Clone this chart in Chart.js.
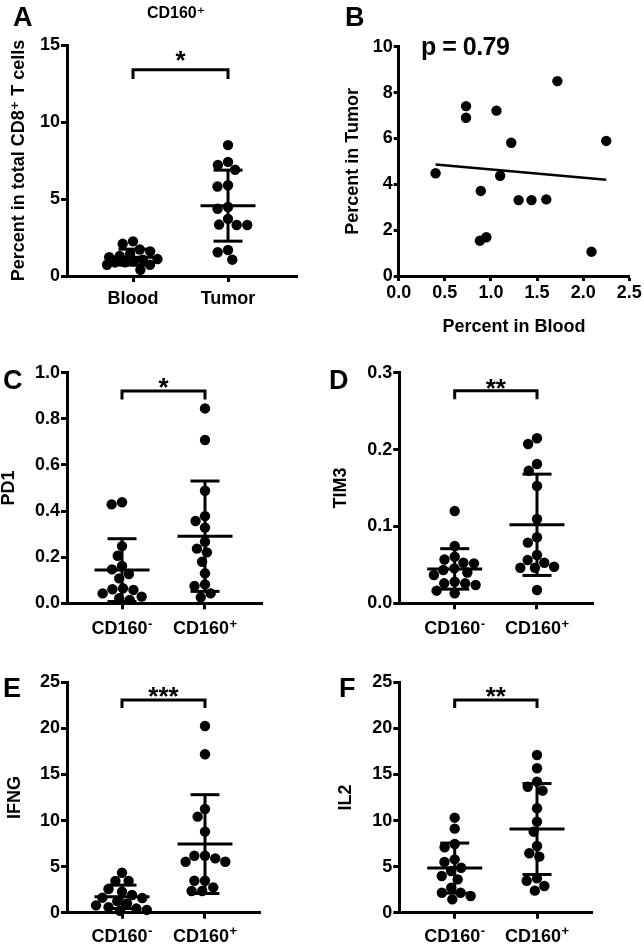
<!DOCTYPE html>
<html><head><meta charset="utf-8">
<script src="https://cdn.jsdelivr.net/npm/chart.js@4.4.1/dist/chart.umd.min.js"></script>
<style>
html,body{margin:0;padding:0;background:#fff;}
#fig{position:relative;width:644px;height:946px;overflow:hidden;background:#fff;}
canvas{position:absolute;}
.t{position:absolute;font-family:'Liberation Sans','DejaVu Sans',sans-serif;font-weight:bold;line-height:1;white-space:nowrap;color:#000;}
</style></head><body><div id="fig"></div>
<script>
// ---------------- data ----------------
const groupNamesA = ['Blood', 'Tumor'];
const groupNamesCD160 = ['CD160\u207B', 'CD160\u207A'];
// paired per patient (panel A groups and panel B scatter)
const bloodPct = [0.40, 0.73, 0.73, 0.88, 0.89, 0.95, 1.06, 1.10, 1.22, 1.30, 1.44, 1.60, 1.72, 2.09, 2.25];
const tumorPct = [4.48, 7.41, 6.90, 1.54, 3.71, 1.69, 7.21, 4.37, 5.81, 3.31, 3.31, 3.34, 8.50, 1.06, 5.89];
const pd1Neg  = [0.438, 0.429, 0.248, 0.206, 0.162, 0.147, 0.127, 0.108, 0.065, 0.058, 0.061, 0.043, 0.029, 0.022, 0.015];
const pd1Pos  = [0.845, 0.708, 0.488, 0.378, 0.357, 0.328, 0.267, 0.237, 0.221, 0.180, 0.130, 0.082, 0.075, 0.043, 0.026];
const tim3Neg = [0.120, 0.0745, 0.0607, 0.057, 0.052, 0.0528, 0.0455, 0.040, 0.0368, 0.0433, 0.026, 0.0238, 0.028, 0.026, 0.013, 0.0164];
const tim3Pos = [0.2147, 0.2072, 0.1812, 0.1725, 0.1526, 0.1097, 0.0859, 0.0789, 0.0628, 0.0563, 0.0528, 0.0463, 0.0463, 0.0476, 0.0173];
const ifngNeg = [4.34, 3.44, 3.44, 2.57, 2.28, 1.92, 1.63, 1.60, 1.25, 1.00, 0.80, 0.60, 0.45, 0.30, 0.20];
const ifngPos = [20.26, 17.19, 11.25, 10.42, 8.79, 6.18, 6.18, 5.53, 5.53, 5.90, 3.47, 3.47, 2.75, 2.36, 2.36];
const il2Neg  = [10.31, 9.12, 7.45, 7.10, 5.79, 5.50, 4.88, 4.52, 3.98, 3.62, 2.71, 2.17, 2.17, 1.81, 1.45];
const il2Pos  = [17.11, 15.67, 14.22, 13.67, 13.24, 11.33, 9.88, 8.79, 7.24, 6.45, 6.08, 3.47, 3.73, 2.90, 2.39];

const yTicksA = [0, 5, 10, 15];
const yTicksB = [0, 2, 4, 6, 8, 10];
const xTicksB = [0, 0.5, 1, 1.5, 2, 2.5];
const yTicksPD1 = [0, 0.2, 0.4, 0.6, 0.8, 1.0];
const yTicksTIM3 = [0, 0.1, 0.2, 0.3];
const yTicksCyto = [0, 5, 10, 15, 20, 25];

// significance brackets: [bar level, end level], star level
const bracketA = [13.4, 12.8],   starA = 14.28, sigA = '*';
const bracketC = [0.921, 0.884], starC = 0.954, sigC = '*';
const bracketD = [0.2766, 0.2654], starD = 0.2857, sigD = '**';
const bracketE = [23.08, 22.2],  starE = 23.95, sigE = '***';
const bracketF = [23.08, 22.2],  starF = 23.95, sigF = '**';
const pValueTextB = 'p = 0.79';
const titleA = 'CD160\u207A';

// ---------------- helpers ----------------
const FONT = "'Liberation Sans','DejaVu Sans',sans-serif";
Chart.defaults.font.family = FONT;
Chart.defaults.color = '#000';
const fig = document.getElementById('fig');

function mkCanvas(r) {
  const c = document.createElement('canvas');
  c.width = r.w; c.height = r.h;
  c.style.left = r.x + 'px'; c.style.top = r.y + 'px';
  c.style.width = r.w + 'px'; c.style.height = r.h + 'px';
  fig.appendChild(c);
  return c;
}
function addText(txt, x, baseline, size, align, ls) {
  const d = document.createElement('div');
  d.className = 't'; d.textContent = txt;
  d.style.fontSize = size + 'px';
  d.style.top = (baseline - 0.8465 * size) + 'px';
  d.style.left = x + 'px';
  if (ls) d.style.letterSpacing = ls + 'px';
  if (align === 'center') d.style.transform = 'translateX(-50%)';
  fig.appendChild(d);
}
const mean = a => a.reduce((s, v) => s + v, 0) / a.length;
const sd = a => { const m = mean(a); return Math.sqrt(a.reduce((s, v) => s + (v - m) * (v - m), 0) / (a.length - 1)); };

// deterministic beeswarm (pixel offsets), limited to +-W px; overlaps allowed when crowded
function swarm(vals, yScale, D, W) {
  const order = vals.map((v, i) => i).sort((a, b) => vals[b] - vals[a]);
  const placed = [], off = new Array(vals.length).fill(0);
  for (const i of order) {
    const y = yScale.getPixelForValue(vals[i]);
    const near = placed.filter(p => Math.abs(p.y - y) < D);
    const cands = [0];
    near.forEach(p => { const w = Math.sqrt(D * D - (p.y - y) * (p.y - y)); cands.push(p.x - w, p.x + w); });
    for (let c = -W; c <= W; c += 1) cands.push(c);
    const md = c => near.length ? Math.min(...near.map(p => Math.hypot(p.x - c, p.y - y))) : Infinity;
    const inRange = cands.filter(c => Math.abs(c) <= W + 1e-6);
    const valid = inRange.filter(c => md(c) >= D - 1e-6).sort((a, b) => Math.abs(a) - Math.abs(b) || a - b);
    let best = 0;
    if (valid.length) best = valid[0];
    else {
      let bd = -1;
      for (const c of inRange) { const d = md(c); if (d > bd + 1e-6 || (Math.abs(d - bd) < 1e-6 && Math.abs(c) < Math.abs(best))) { bd = d; best = c; } }
    }
    placed.push({ x: best, y }); off[i] = best;
  }
  return off;
}

const sigPlugin = {
  id: 'sig',
  afterDatasetsDraw(chart, args, opts) {
    if (!opts || !opts.text) return;
    const { ctx } = chart, xs = chart.scales.x, ys = chart.scales.y;
    ctx.save();
    ctx.font = 'bold ' + opts.size + 'px ' + FONT;
    ctx.fillStyle = '#000'; ctx.textAlign = 'center'; ctx.textBaseline = 'alphabetic';
    const m = ctx.measureText(opts.text);
    const cy = ys.getPixelForValue(opts.y);
    ctx.fillText(opts.text, xs.getPixelForValue(opts.x), cy + (m.actualBoundingBoxAscent - m.actualBoundingBoxDescent) / 2);
    ctx.restore();
  }
};

// category labels with a real raised superscript (+ / -)
const supMap = { '\u207A': '+', '\u207B': '-' };
function splitSup(s) { let i = s.length; while (i > 0 && supMap[s[i - 1]]) i--; return [s.slice(0, i), s.slice(i).split('').map(c => supMap[c]).join('')]; }
const catLabelPlugin = {
  id: 'catLabels',
  afterDraw(chart, args, opts) {
    if (!opts || !opts.names) return;
    const { ctx } = chart, xs = chart.scales.x;
    const base = xs.getPixelForValue(xs.min) ; // unused anchor
    const yb = chart.chartArea.bottom + opts.offset;
    ctx.save(); ctx.fillStyle = '#000'; ctx.textBaseline = 'alphabetic'; ctx.textAlign = 'left';
    opts.names.forEach((name, i) => {
      const [b, s] = splitSup(name);
      ctx.font = 'bold 18px ' + FONT; const wb = ctx.measureText(b).width;
      ctx.font = 'bold 13px ' + FONT; const ws = s ? ctx.measureText(s).width + 0.5 : 0;
      const x0 = xs.getPixelForValue(i + 1) - (wb + ws) / 2;
      ctx.font = 'bold 18px ' + FONT; ctx.fillText(b, x0, yb);
      if (s) { ctx.font = 'bold 13px ' + FONT; ctx.fillText(s, x0 + wb + 0.5, yb - 6.5); }
    });
    ctx.restore();
  }
};

const tickFont = { size: 18, weight: 'bold', family: FONT };
const gridOpt = { display: true, drawOnChartArea: false, drawTicks: true, tickLength: 6, tickWidth: 3, tickColor: '#000', color: '#000' };
const borderOpt = { display: true, color: '#000', width: 3 };
const seg = pts => ({ data: pts, showLine: true, borderColor: '#000', borderWidth: 3, pointRadius: 0, borderJoinStyle: 'miter', clip: false });

function groupPanel(p) {
  const r = p.rect, P = p.plot;
  const canvas = mkCanvas(r);
  const chart = new Chart(canvas, {
    type: 'scatter',
    data: { datasets: [] },
    options: {
      responsive: false, animation: false, events: [],
      layout: { autoPadding: false, padding: { left: 0, top: P.T - r.y, right: r.x + r.w - P.R, bottom: 0 } },
      plugins: { legend: { display: false }, tooltip: { enabled: false },
        sig: { text: p.sig, x: 1.5, y: p.starY, size: 26 },
        catLabels: { names: p.names, offset: p.labOff } },
      scales: {
        x: {
          type: 'linear', min: p.xMin, max: p.xMax,
          afterBuildTicks: s => { s.ticks = [{ value: 1 }, { value: 2 }]; },
          afterFit: s => { s.height = r.y + r.h - P.B; },
          ticks: { display: false },
          grid: gridOpt, border: borderOpt
        },
        y: {
          type: 'linear', min: p.yTicks[0], max: p.yTicks[p.yTicks.length - 1],
          afterBuildTicks: s => { s.ticks = p.yTicks.map(v => ({ value: v })); },
          afterFit: s => { s.width = P.L - r.x; },
          ticks: { callback: v => p.fmt(v), font: tickFont, color: '#000', padding: 1 },
          grid: gridOpt, border: borderOpt,
          title: { display: true, text: p.yTitle, color: '#000', font: { size: 18, weight: 'bold', family: FONT, lineHeight: 1 }, padding: { top: p.titlePad, bottom: 0 } }
        }
      }
    },
    plugins: [sigPlugin, catLabelPlugin]
  });
  const xs = chart.scales.x, ys = chart.scales.y;
  const toX = (c, px) => xs.getValueForPixel(xs.getPixelForValue(c) + px);
  const ds = [];
  p.groups.forEach((vals, gi) => {
    const c = gi + 1;
    const off = swarm(vals, ys, 10.6, 26);
    ds.push({ data: vals.map((v, i) => ({ x: toX(c, off[i]), y: v })), pointRadius: 5.2, pointBackgroundColor: '#000', pointBorderWidth: 0, clip: false });
    const m = mean(vals), s = sd(vals);
    ds.push(seg([{ x: toX(c, -27.5), y: m }, { x: toX(c, 27.5), y: m }]));
    ds.push(seg([{ x: toX(c, -14.5), y: m + s }, { x: toX(c, 14.5), y: m + s }]));
    ds.push(seg([{ x: toX(c, -14.5), y: m - s }, { x: toX(c, 14.5), y: m - s }]));
    ds.push(seg([{ x: c, y: m - s }, { x: c, y: m + s }]));
  });
  const b = p.bracket;
  ds.push(seg([{ x: 1, y: b[1] }, { x: 1, y: b[0] }, { x: 2, y: b[0] }, { x: 2, y: b[1] }]));
  chart.data.datasets = ds;
  chart.update('none');
  return chart;
}

const fmt0 = v => String(Math.round(v));
const fmt1 = v => v.toFixed(1);

// ---------------- panels ----------------
groupPanel({ rect: { x: 0, y: 30, w: 322, h: 310 }, plot: { L: 67, T: 45, R: 297, B: 276 },
  xMin: 0.3053, xMax: 2.726, yTicks: yTicksA, fmt: fmt0, names: groupNamesA,
  yTitle: 'Percent in total CD8\u207A T cells', titlePad: 10,
  groups: [bloodPct, tumorPct], bracket: bracketA, starY: starA, sig: sigA, labOff: 28 });

groupPanel({ rect: { x: 0, y: 355, w: 322, h: 290 }, plot: { L: 67, T: 372.7, R: 262, B: 603.3 },
  xMin: 0.337, xMax: 2.687, yTicks: yTicksPD1, fmt: fmt1, names: groupNamesCD160,
  yTitle: 'PD1', titlePad: 0.5,
  groups: [pd1Neg, pd1Pos], bracket: bracketC, starY: starC, sig: sigC, labOff: 31 });

groupPanel({ rect: { x: 322, y: 355, w: 322, h: 290 }, plot: { L: 399.3, T: 372.7, R: 593.7, B: 603.3 },
  xMin: 0.327, xMax: 2.689, yTicks: yTicksTIM3, fmt: fmt1, names: groupNamesCD160,
  yTitle: 'TIM3', titlePad: 10,
  groups: [tim3Neg, tim3Pos], bracket: bracketD, starY: starD, sig: sigD, labOff: 31 });

groupPanel({ rect: { x: 0, y: 660, w: 322, h: 286 }, plot: { L: 67, T: 682.3, R: 260, B: 912.7 },
  xMin: 0.337, xMax: 2.663, yTicks: yTicksCyto, fmt: fmt0, names: groupNamesCD160,
  yTitle: 'IFNG', titlePad: 6.5,
  groups: [ifngNeg, ifngPos], bracket: bracketE, starY: starE, sig: sigE, labOff: 29 });

groupPanel({ rect: { x: 322, y: 660, w: 322, h: 286 }, plot: { L: 399.3, T: 682.3, R: 592, B: 912.7 },
  xMin: 0.327, xMax: 2.668, yTicks: yTicksCyto, fmt: fmt0, names: groupNamesCD160,
  yTitle: 'IL2', titlePad: 15,
  groups: [il2Neg, il2Pos], bracket: bracketF, starY: starF, sig: sigF, labOff: 29 });

// Panel B: correlation scatter with least-squares line
(function () {
  const r = { x: 322, y: 30, w: 322, h: 310 }, P = { L: 398.7, T: 46.7, R: 629.3, B: 276 };
  const mx = mean(bloodPct), my = mean(tumorPct);
  let sxy = 0, sxx = 0;
  bloodPct.forEach((x, i) => { sxy += (x - mx) * (tumorPct[i] - my); sxx += (x - mx) * (x - mx); });
  const slope = sxy / sxx, icpt = my - slope * mx;
  const x0 = Math.min(...bloodPct), x1 = Math.max(...bloodPct);
  const canvas = mkCanvas(r);
  new Chart(canvas, {
    type: 'scatter',
    data: { datasets: [
      { data: bloodPct.map((x, i) => ({ x, y: tumorPct[i] })), pointRadius: 5.2, pointBackgroundColor: '#000', pointBorderWidth: 0, clip: false },
      { data: [{ x: x0, y: icpt + slope * x0 }, { x: x1, y: icpt + slope * x1 }], showLine: true, borderColor: '#000', borderWidth: 2.5, pointRadius: 0, clip: false }
    ] },
    options: {
      responsive: false, animation: false, events: [],
      layout: { autoPadding: false, padding: { left: 0, top: P.T - r.y, right: r.x + r.w - P.R, bottom: 0 } },
      plugins: { legend: { display: false }, tooltip: { enabled: false } },
      scales: {
        x: { type: 'linear', min: 0, max: 2.5,
          afterBuildTicks: s => { s.ticks = xTicksB.map(v => ({ value: v })); },
          afterFit: s => { s.height = r.y + r.h - P.B; },
          ticks: { callback: v => v.toFixed(1), font: tickFont, color: '#000', padding: 1, maxRotation: 0, autoSkip: false },
          grid: Object.assign({}, gridOpt, { tickLength: 5 }), border: borderOpt,
          title: { display: true, text: 'Percent in Blood', color: '#000', font: { size: 18, weight: 'bold', family: FONT, lineHeight: 1 }, padding: { top: 0, bottom: 4 } } },
        y: { type: 'linear', min: 0, max: 10,
          afterBuildTicks: s => { s.ticks = yTicksB.map(v => ({ value: v })); },
          afterFit: s => { s.width = P.L - r.x; },
          ticks: { callback: v => String(v), font: tickFont, color: '#000', padding: 1 },
          grid: Object.assign({}, gridOpt, { tickLength: 5 }), border: borderOpt,
          title: { display: true, text: 'Percent in Tumor', color: '#000', font: { size: 18, weight: 'bold', family: FONT, lineHeight: 1 }, padding: { top: 22, bottom: 0 } } }
      }
    }
  });
})();

// ---------------- annotations ----------------
addText('A', 13, 27, 27);
addText('B', 345, 27, 27);
addText('C', 3, 390, 27);
addText('D', 329, 390, 27);
addText('E', 3, 698, 27);
addText('F', 339, 698, 27);
addText(titleA, 176, 18.5, 16, 'center');
addText(pValueTextB, 421, 55, 25, null, -0.5);
</script></body></html>
